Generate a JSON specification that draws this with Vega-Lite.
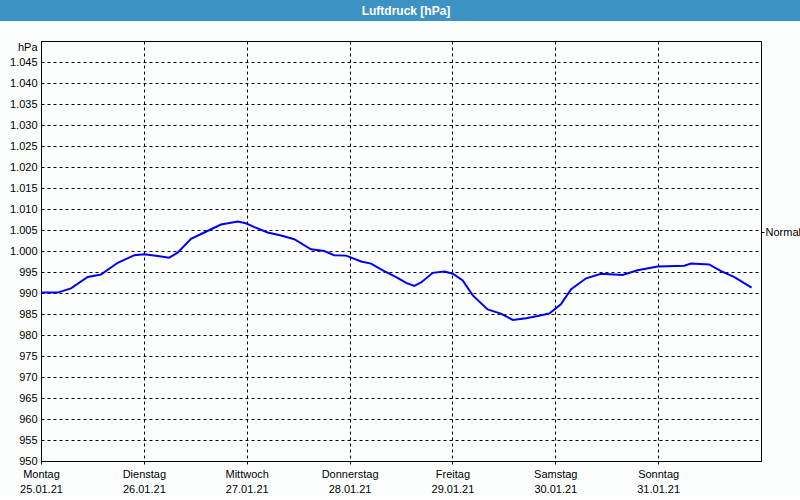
{
  "$schema": "https://vega.github.io/schema/vega-lite/v6.json",
  "padding": 0,
  "background": "#fcfefd",
  "spacing": 19,
  "config": {
    "font": "Liberation Sans",
    "axis": {
      "labelFont": "Liberation Sans",
      "labelFontSize": 11,
      "labelColor": "#000000",
      "domainColor": "#000000",
      "tickColor": "#000000",
      "gridColor": "#000000",
      "gridOpacity": 1,
      "gridDash": [3, 3],
      "gridWidth": 1
    }
  },
  "vconcat": [
    {
      "width": 800,
      "height": 21,
      "view": {"fill": "#3d92c4", "stroke": null},
      "data": {"values": [{"titel": "Luftdruck [hPa]"}]},
      "mark": {"type": "text", "color": "#ffffff", "font": "Liberation Sans", "fontSize": 12, "fontWeight": "bold", "dx": 6, "baseline": "middle"},
      "encoding": {"text": {"field": "titel"}}
    },
    {
      "spacing": 0,
      "hconcat": [
        {
          "width": 1,
          "height": 1,
          "view": {"fill": null, "stroke": null},
          "data": {"values": []},
          "mark": "point"
        },
        {
          "width": 720,
          "height": 420,
          "view": {"stroke": "#000000", "strokeWidth": 1, "fill": "#fcfefd"},
          "layer": [
            {
              "data": {"values": [
                {"zeit": "2021-01-25T00:00", "druck": 990.1},
                {"zeit": "2021-01-25T03:54", "druck": 990.1},
                {"zeit": "2021-01-25T07:00", "druck": 991.1},
                {"zeit": "2021-01-25T10:54", "druck": 993.8},
                {"zeit": "2021-01-25T14:00", "druck": 994.4},
                {"zeit": "2021-01-25T17:54", "druck": 997.2},
                {"zeit": "2021-01-25T21:48", "druck": 999.0},
                {"zeit": "2021-01-26T00:06", "druck": 999.2},
                {"zeit": "2021-01-26T03:12", "druck": 998.8},
                {"zeit": "2021-01-26T05:54", "druck": 998.4},
                {"zeit": "2021-01-26T07:54", "druck": 999.6},
                {"zeit": "2021-01-26T11:00", "druck": 1002.9},
                {"zeit": "2021-01-26T14:06", "druck": 1004.4},
                {"zeit": "2021-01-26T18:00", "druck": 1006.3},
                {"zeit": "2021-01-26T21:54", "druck": 1007.0},
                {"zeit": "2021-01-26T23:48", "druck": 1006.6},
                {"zeit": "2021-01-27T01:48", "druck": 1005.7},
                {"zeit": "2021-01-27T04:54", "druck": 1004.4},
                {"zeit": "2021-01-27T08:00", "druck": 1003.7},
                {"zeit": "2021-01-27T11:06", "druck": 1002.8},
                {"zeit": "2021-01-27T15:00", "druck": 1000.4},
                {"zeit": "2021-01-27T18:06", "druck": 1000.0},
                {"zeit": "2021-01-27T20:24", "druck": 999.0},
                {"zeit": "2021-01-27T23:12", "druck": 998.9},
                {"zeit": "2021-01-28T02:42", "druck": 997.5},
                {"zeit": "2021-01-28T05:00", "druck": 997.0},
                {"zeit": "2021-01-28T08:06", "druck": 995.2},
                {"zeit": "2021-01-28T11:12", "druck": 993.6},
                {"zeit": "2021-01-28T13:12", "druck": 992.4},
                {"zeit": "2021-01-28T15:06", "druck": 991.7},
                {"zeit": "2021-01-28T16:42", "druck": 992.5},
                {"zeit": "2021-01-28T19:24", "druck": 994.8},
                {"zeit": "2021-01-28T22:06", "druck": 995.1},
                {"zeit": "2021-01-29T00:06", "druck": 994.6},
                {"zeit": "2021-01-29T02:24", "druck": 993.0},
                {"zeit": "2021-01-29T04:42", "druck": 989.5},
                {"zeit": "2021-01-29T08:12", "druck": 986.1},
                {"zeit": "2021-01-29T11:18", "druck": 985.1},
                {"zeit": "2021-01-29T14:06", "druck": 983.6},
                {"zeit": "2021-01-29T17:12", "druck": 984.0},
                {"zeit": "2021-01-29T19:54", "druck": 984.5},
                {"zeit": "2021-01-29T22:36", "druck": 985.1},
                {"zeit": "2021-01-30T01:18", "druck": 987.3},
                {"zeit": "2021-01-30T03:42", "druck": 990.9},
                {"zeit": "2021-01-30T07:12", "druck": 993.5},
                {"zeit": "2021-01-30T10:42", "druck": 994.6},
                {"zeit": "2021-01-30T15:42", "druck": 994.3},
                {"zeit": "2021-01-30T19:12", "druck": 995.4},
                {"zeit": "2021-01-30T23:54", "druck": 996.3},
                {"zeit": "2021-01-31T06:06", "druck": 996.5},
                {"zeit": "2021-01-31T07:42", "druck": 997.0},
                {"zeit": "2021-01-31T11:54", "druck": 996.8},
                {"zeit": "2021-01-31T14:42", "druck": 995.2},
                {"zeit": "2021-01-31T17:48", "druck": 993.8},
                {"zeit": "2021-01-31T21:48", "druck": 991.3}
              ]},
              "mark": {"type": "line", "color": "#0000f0", "strokeWidth": 2},
              "encoding": {
                "x": {
                  "field": "zeit",
                  "type": "temporal",
                  "scale": {"domain": [{"year": 2021, "month": 1, "date": 25}, {"year": 2021, "month": 2, "date": 1}]},
                  "axis": {
                    "values": [
                      {"year": 2021, "month": 1, "date": 25},
                      {"year": 2021, "month": 1, "date": 26},
                      {"year": 2021, "month": 1, "date": 27},
                      {"year": 2021, "month": 1, "date": 28},
                      {"year": 2021, "month": 1, "date": 29},
                      {"year": 2021, "month": 1, "date": 30},
                      {"year": 2021, "month": 1, "date": 31}
                    ],
                    "labelExpr": "[['Sonntag','Montag','Dienstag','Mittwoch','Donnerstag','Freitag','Samstag'][day(datum.value)], timeFormat(datum.value, '%d.%m.%y')]",
                    "labelFlush": false,
                    "labelOverlap": false,
                    "labelBaseline": "top",
                    "labelLineHeight": 15,
                    "labelPadding": 4,
                    "tickSize": 3,
                    "tickDash": [3, 3],
                    "grid": true,
                    "title": " ",
                    "titleX": -39,
                    "titleY": 12,
                    "titleAlign": "left",
                    "titleFontSize": 6
                  }
                },
                "y": {
                  "field": "druck",
                  "type": "quantitative",
                  "scale": {"domain": [950, 1050], "nice": false, "zero": false},
                  "axis": {
                    "values": [950, 955, 960, 965, 970, 975, 980, 985, 990, 995, 1000, 1005, 1010, 1015, 1020, 1025, 1030, 1035, 1040, 1045, 1050],
                    "labelExpr": "datum.value == 1050 ? 'hPa' : replace(format(datum.value, ','), ',', '.')",
                    "labelOffset": {"condition": {"test": "datum.value == 1050", "value": 6}, "value": 0},
                    "labelOverlap": false,
                    "labelPadding": 4,
                    "ticks": false,
                    "grid": true,
                    "title": null
                  }
                }
              }
            },
            {
              "data": {"values": [{"normal": 1004.5}]},
              "mark": {"type": "rule", "opacity": 0},
              "encoding": {
                "y": {
                  "field": "normal",
                  "type": "quantitative",
                  "scale": {"domain": [950, 1050], "nice": false, "zero": false},
                  "axis": {
                    "orient": "right",
                    "values": [1004.5],
                    "labelExpr": "'Normal'",
                    "grid": false,
                    "domain": false,
                    "tickSize": 3,
                    "labelPadding": 1,
                    "title": null
                  }
                }
              }
            }
          ],
          "resolve": {"axis": {"y": "independent"}}
        }
      ]
    }
  ]
}
